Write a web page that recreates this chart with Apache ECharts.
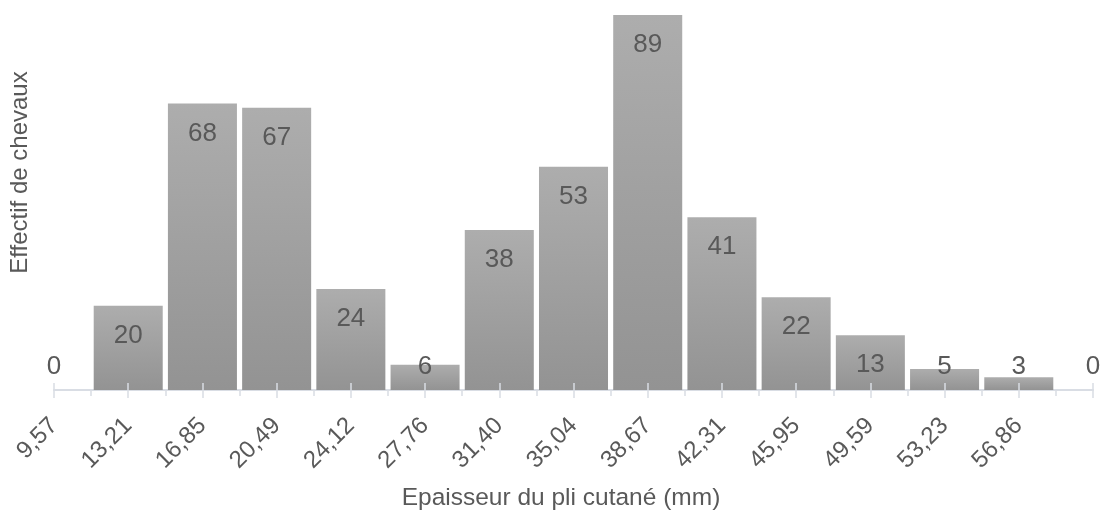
<!DOCTYPE html>
<html>
<head>
<meta charset="utf-8">
<script src="https://cdn.jsdelivr.net/npm/echarts@6/dist/echarts.min.js"></script>
<style>html,body{margin:0;padding:0;background:#fff}#c{width:1102px;height:512px}</style>
</head>
<body>
<div id="c"></div>
<script>
const categories = ['9,57','13,21','16,85','20,49','24,12','27,76','31,40','35,04','38,67','42,31','45,95','49,59','53,23','56,86',''];
const counts = [0,20,68,67,24,6,38,53,89,41,22,13,5,3,0];
const xTitle = 'Epaisseur du pli cutané (mm)';
const yTitle = 'Effectif de chevaux';

const FONT = 'Liberation Sans, Arial, sans-serif';
const TXT = '#595959';
const AX = '#d9dde4';

const chart = echarts.init(document.getElementById('c'), null, {renderer:'canvas'});
const midCats = categories.slice(1);

const seriesData = counts.map(v => ({
  value: v,
  label: { position: v >= 13 ? 'insideTop' : 'insideBottom', distance: v >= 13 ? 17 : 10 }
}));

chart.setOption({
  animation: false,
  grid: { left: 54, right: 9, top: 15, bottom: 122, containLabel: false, outerBoundsMode: 'none' },
  xAxis: [
    {
      type: 'category', data: categories, boundaryGap: false, position: 'bottom',
      axisLine: { show: true, lineStyle: { color: AX, width: 2 } },
      axisTick: { show: true, length: 8, lineStyle: { color: AX, width: 1.5 } },
      axisLabel: { rotate: 45, fontSize: 24, color: TXT, fontFamily: FONT, margin: 32, interval: 0, verticalAlign: 'middle' },
      splitLine: { show: false },
      name: xTitle, nameLocation: 'middle', nameGap: 96,
      nameTextStyle: { fontSize: 24.5, color: TXT, fontFamily: FONT, padding: [0, 25, 0, 0] }
    },
    {
      type: 'category', data: categories, boundaryGap: false, position: 'bottom', z: 5,
      axisLine: { show: false },
      axisTick: { show: true, inside: true, length: 7, lineStyle: { color: AX, width: 1.5 } },
      axisLabel: { show: false }, splitLine: { show: false }
    },
    {
      type: 'category', data: midCats, boundaryGap: true, position: 'bottom',
      axisLine: { show: false },
      axisTick: { show: true, alignWithLabel: true, length: 6, lineStyle: { color: AX, width: 1.5 } },
      axisLabel: { show: false }, splitLine: { show: false }
    }
  ],
  yAxis: {
    type: 'value', min: 0, max: 89,
    axisLine: { show: false }, axisTick: { show: false }, axisLabel: { show: false },
    splitLine: { show: false },
    name: yTitle, nameLocation: 'middle', nameGap: 22, nameRotate: 90,
    nameTextStyle: { fontSize: 24, color: TXT, fontFamily: FONT, padding: [0, 0, 0, 60] }
  },
  series: [{
    type: 'bar', data: seriesData, barWidth: '93%', clip: false, xAxisIndex: 0,
    itemStyle: {
      color: new echarts.graphic.LinearGradient(0, 0, 0, 1, [
        { offset: 0, color: '#adadad' }, { offset: 1, color: '#939393' }
      ])
    },
    label: { show: true, fontSize: 26, color: TXT, fontFamily: FONT }
  }]
});
</script>
</body>
</html>
